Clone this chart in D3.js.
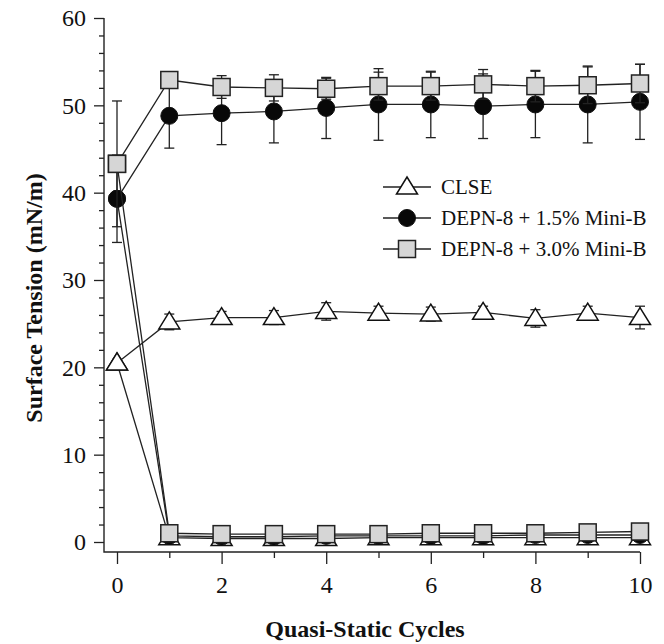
<!DOCTYPE html>
<html>
<head>
<meta charset="utf-8">
<script src="https://cdn.jsdelivr.net/npm/d3@7"></script>
<style>
  body { margin: 0; background: #fff; }
  text { font-family: "Liberation Serif", "Times New Roman", serif; fill: #111; }
</style>
</head>
<body>
<div id="chart"></div>
<script>
// data
var cycles = [0, 1, 2, 3, 4, 5, 6, 7, 8, 9, 10];
var clseMax = [20.5, 25.2, 25.7, 25.7, 26.4, 26.2, 26.1, 26.3, 25.6, 26.2, 25.7];
var clseMaxErr = [0.4, 0.9, 0.7, 0.8, 1.0, 0.8, 0.8, 0.7, 1.0, 0.8, 1.3];
var clseMin = [20.5, 0.5, 0.4, 0.4, 0.4, 0.5, 0.5, 0.5, 0.5, 0.5, 0.5];
var mb15Max = [39.3, 48.8, 49.1, 49.3, 49.7, 50.1, 50.1, 49.9, 50.1, 50.1, 50.4];
var mb15MaxErr = [5.0, 3.7, 3.6, 3.6, 3.5, 4.1, 3.8, 3.7, 3.8, 4.4, 4.3];
var mb15Min = [39.3, 0.7, 0.6, 0.6, 0.7, 0.7, 0.7, 0.7, 0.8, 0.8, 0.8];
var mb30Max = [43.3, 52.9, 52.1, 52.0, 51.9, 52.2, 52.2, 52.4, 52.2, 52.3, 52.5];
var mb30MaxErr = [7.2, 0.4, 1.3, 1.5, 1.2, 1.6, 1.6, 1.7, 1.8, 2.1, 2.2];
var mb30Min = [43.3, 1.0, 0.9, 0.9, 0.9, 0.9, 1.0, 1.0, 1.0, 1.1, 1.2];
var legendLabels = ["CLSE", "DEPN-8 + 1.5% Mini-B", "DEPN-8 + 3.0% Mini-B"];
var xTicks = [0, 2, 4, 6, 8, 10];
var xMinor = [1, 3, 5, 7, 9];
var yTicks = [0, 10, 20, 30, 40, 50, 60];
var yMinor = d3.range(2, 60, 2).filter(d => d % 10 !== 0);

//svg dims
var width = 664;
var height = 644;
var axisX = 104;   // y axis line
var axisY = 552;   // x axis line

var svg = d3.select("#chart")
            .append("svg")
            .attr("width", width)
            .attr("height", height);

var xScale = d3.scaleLinear().domain([0, 10]).range([117, 640]);
var yScale = d3.scaleLinear().domain([0, 60]).range([542, 18]);

var ink = "#222";

//axes
var yAxis = d3.axisLeft(yScale).tickValues(yTicks).tickSize(10).tickPadding(8);
var yAxisMinor = d3.axisLeft(yScale).tickValues(yMinor).tickSize(5).tickFormat("");
var xAxis = d3.axisBottom(xScale).tickValues(xTicks).tickSize(12).tickPadding(12);
var xAxisMinor = d3.axisBottom(xScale).tickValues(xMinor).tickSize(6).tickFormat("");

[yAxis, yAxisMinor].forEach(ax => {
  var g = svg.append("g").attr("transform", `translate(${axisX},0)`).call(ax);
  g.select(".domain").remove();
  g.selectAll("line").attr("stroke", ink).attr("stroke-width", 1.3);
  g.selectAll("text").style("font-size", "24px").style("font-family", "Liberation Serif").attr("fill", "#111");
});
[xAxis, xAxisMinor].forEach(ax => {
  var g = svg.append("g").attr("transform", `translate(0,${axisY})`).call(ax);
  g.select(".domain").remove();
  g.selectAll("line").attr("stroke", ink).attr("stroke-width", 1.3);
  g.selectAll("text").style("font-size", "24px").style("font-family", "Liberation Serif").attr("fill", "#111");
});
//axis lines
svg.append("path")
   .attr("d", `M${axisX},${yScale(60)}V${axisY}H${xScale(10)}`)
   .attr("fill", "none").attr("stroke", ink).attr("stroke-width", 1.4);

//axis titles
svg.append("text")
   .attr("x", 365).attr("y", 637)
   .attr("text-anchor", "middle")
   .style("font-size", "24px").style("font-weight", "bold")
   .text("Quasi-Static Cycles");
svg.append("text")
   .attr("transform", "translate(42,298) rotate(-90)")
   .attr("text-anchor", "middle")
   .style("font-size", "24px").style("font-weight", "bold")
   .text("Surface Tension (mN/m)");

//marker painters
function drawMarker(g, type, x, y) {
  if (type === "tri") {
    var s = 10;
    g.append("path")
     .attr("d", `M${x},${y - s}L${x + s * 1.05},${y + s * 0.7}L${x - s * 1.05},${y + s * 0.7}Z`)
     .attr("fill", "#fff").attr("stroke", "#111").attr("stroke-width", 1.5);
  } else if (type === "circle") {
    g.append("circle").attr("cx", x).attr("cy", y).attr("r", 8.5)
     .attr("fill", "#080808").attr("stroke", "#111").attr("stroke-width", 1);
  } else {
    g.append("rect").attr("x", x - 8.5).attr("y", y - 8.5)
     .attr("width", 17).attr("height", 17)
     .attr("fill", "#d6d6d6").attr("stroke", "#222").attr("stroke-width", 1.5);
  }
}

var line = d3.line().x((d, i) => xScale(cycles[i])).y(d => yScale(d));

var series = [
  { type: "tri", max: clseMax, err: clseMaxErr, min: clseMin },
  { type: "circle", max: mb15Max, err: mb15MaxErr, min: mb15Min },
  { type: "square", max: mb30Max, err: mb30MaxErr, min: mb30Min }
];

series.forEach(s => {
  var g = svg.append("g");
  //error bars
  s.max.forEach((v, i) => {
    var x = xScale(cycles[i]);
    var y0 = yScale(v - s.err[i]), y1 = yScale(v + s.err[i]);
    g.append("line").attr("x1", x).attr("x2", x).attr("y1", y0).attr("y2", y1)
     .attr("stroke", ink).attr("stroke-width", 1.3);
    [y0, y1].forEach(yy => {
      g.append("line").attr("x1", x - 5).attr("x2", x + 5).attr("y1", yy).attr("y2", yy)
       .attr("stroke", ink).attr("stroke-width", 1.3);
    });
  });
  //lines
  [s.max, s.min].forEach(arr => {
    g.append("path").attr("d", line(arr))
     .attr("fill", "none").attr("stroke", ink).attr("stroke-width", 1.3);
  });
  //markers
  s.min.forEach((v, i) => drawMarker(g, s.type, xScale(cycles[i]), yScale(v)));
  s.max.forEach((v, i) => drawMarker(g, s.type, xScale(cycles[i]), yScale(v)));
});

//legend
var legendY = [187, 218, 249];
var legend = svg.append("g");
series.forEach((s, i) => {
  var y = legendY[i];
  legend.append("line").attr("x1", 383).attr("x2", 431).attr("y1", y).attr("y2", y)
        .attr("stroke", ink).attr("stroke-width", 1.3);
  drawMarker(legend, s.type, 407, y);
  legend.append("text").attr("x", 441).attr("y", y + 7)
        .style("font-size", "21px")
        .text(legendLabels[i]);
});
</script>
</body>
</html>
